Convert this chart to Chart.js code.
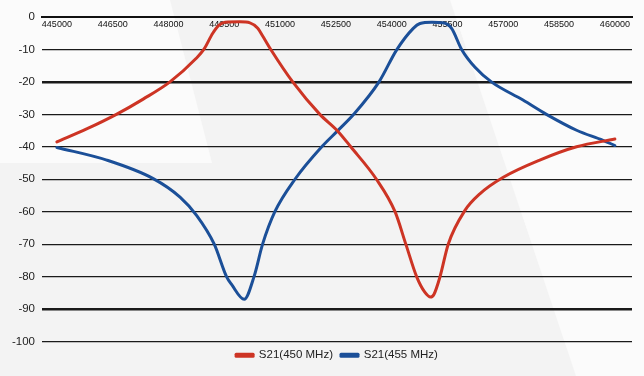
<!DOCTYPE html>
<html>
<head>
<meta charset="utf-8">
<script src="https://cdn.jsdelivr.net/npm/chart.js@4/dist/chart.umd.min.js"></script>
<style>
  html, body { margin: 0; padding: 0; background: #f3f3f3; }
  canvas { display: block; }
</style>
</head>
<body>
<canvas id="s21_chart" width="644" height="376"></canvas>
<script>
// frequency points (Hz) and S21 (dB)
var freq450 = [445000, 445800, 446600, 447320, 448040, 448740, 448950, 449190, 449360, 449520, 449920, 450190, 450400, 450540, 450750, 451340, 452070, 452545, 452900, 453590, 454090, 454380, 454670, 454890, 455045, 455135, 455300, 455520, 455970, 456370, 457000, 457980, 458970, 460000];
var s21_450 = [-38.5, -34.5, -30, -25.3, -20, -12.8, -10, -5, -2.5, -1.6, -1.5, -1.8, -3.5, -6, -10, -20, -30, -35.1, -40, -50, -60, -70, -80, -84.8, -86.3, -85.5, -80, -70, -59.6, -54.5, -49.4, -44.1, -40, -37.6];

var freq455 = [445000, 446340, 447590, 448310, 448760, 449230, 449560, 449700, 450035, 450300, 450530, 450860, 451400, 452120, 452545, 452980, 453660, 454130, 454580, 454760, 455080, 455380, 455610, 455880, 456240, 456680, 457530, 458160, 458970, 459680, 460000];
var s21_455 = [-40.2, -44.1, -49.8, -55.5, -61.2, -70, -80, -82.5, -87, -80, -70, -60, -50, -40, -35.1, -30, -20, -10.2, -3.5, -2, -1.6, -1.8, -3.5, -10, -15.5, -20, -25.6, -30, -34.9, -38, -39.6];

var freqTicks = [445000, 446500, 448000, 449500, 451000, 452500, 454000, 455500, 457000, 458500, 460000];
var seriesNames = ["S21(450 MHz)", "S21(455 MHz)"];

function toPoints(xs, ys) {
    return xs.map(function (x, i) { return { x: x, y: ys[i] }; });
}

// faint watermark shape behind the plot
var backdrop = {
    id: 'backdrop',
    beforeDraw: function (chart) {
        var c = chart.ctx;
        c.save();
        c.fillStyle = '#f3f3f3';
        c.fillRect(0, 0, chart.width, chart.height);
        c.fillStyle = '#fbfbfb';
        c.beginPath();
        c.moveTo(0, 0); c.lineTo(170, 0); c.lineTo(212, 163); c.lineTo(0, 163);
        c.closePath(); c.fill();
        c.beginPath();
        c.moveTo(450, 0); c.lineTo(644, 0); c.lineTo(644, 376); c.lineTo(576, 376);
        c.closePath(); c.fill();
        c.restore();
    }
};

// frequency labels sit just under the top axis line, inside the plot (under the curves)
var topLabels = {
    id: 'topLabels',
    beforeDatasetsDraw: function (chart) {
        var xs = chart.scales.x, c = chart.ctx;
        c.save();
        c.font = '9px "Liberation Sans", Arial, sans-serif';
        c.fillStyle = '#111';
        c.textAlign = 'center';
        c.textBaseline = 'middle';
        freqTicks.forEach(function (f) {
            c.fillText(String(f), xs.getPixelForValue(f), xs.bottom + 7.5);
        });
        c.restore();
    }
};

var ctx = document.getElementById("s21_chart").getContext('2d');

var s21 = new Chart(ctx, {
    type: 'line',
    data: {
        datasets: [{
            label: seriesNames[0],
            data: toPoints(freq450, s21_450),
            borderColor: '#cd3424',
            backgroundColor: '#cd3424',
            borderWidth: 3,
            borderCapStyle: 'round',
            borderJoinStyle: 'round',
            pointRadius: 0,
            cubicInterpolationMode: 'monotone'
        }, {
            label: seriesNames[1],
            data: toPoints(freq455, s21_455),
            borderColor: '#1b4f98',
            backgroundColor: '#1b4f98',
            borderWidth: 3,
            borderCapStyle: 'round',
            borderJoinStyle: 'round',
            pointRadius: 0,
            cubicInterpolationMode: 'monotone'
        }]
    },
    options: {
        responsive: false,
        animation: false,
        layout: { padding: { top: 0, right: 12, bottom: 5, left: 0 } },
        scales: {
            x: {
                type: 'linear',
                position: 'top',
                min: 444600,
                max: 460460,
                afterBuildTicks: function (scale) {
                    scale.ticks = freqTicks.map(function (v) { return { value: v }; });
                },
                afterFit: function (scale) { scale.height = 17; },
                grid: { display: false, drawTicks: false },
                border: { display: true, color: '#111', width: 2, dash: [1, 1] },
                ticks: { display: false }
            },
            y: {
                min: -100,
                max: 0,
                afterFit: function (scale) { scale.width = 42; },
                grid: {
                    drawTicks: false,
                    color: function (c) { return c.tick.value === 0 ? 'rgba(0,0,0,0)' : '#1a1a1a'; },
                    lineWidth: function (c) { return (c.tick.value === -20 || c.tick.value === -90) ? 2.5 : 1.2; }
                },
                border: { display: false },
                ticks: {
                    stepSize: 10,
                    padding: 7,
                    color: '#222',
                    font: { family: 'Liberation Sans', size: 11.5 }
                }
            }
        },
        plugins: {
            legend: {
                position: 'bottom',
                fullSize: false,
                labels: {
                    boxWidth: 17,
                    boxHeight: 2,
                    padding: 8,
                    color: '#222',
                    font: { family: 'Liberation Sans', size: 11.5 }
                }
            },
            tooltip: { enabled: false }
        }
    },
    plugins: [backdrop, topLabels]
});
</script>
</body>
</html>
